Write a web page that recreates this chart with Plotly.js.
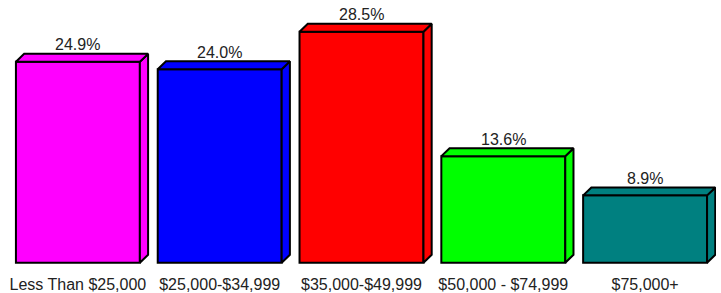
<!DOCTYPE html>
<html>
<head>
<meta charset="utf-8">
<script src="https://cdn.plot.ly/plotly-3.0.1.min.js"></script>
<style>html,body{margin:0;padding:0;background:#fff;}#chart{width:721px;height:293px;}</style>
</head>
<body>
<div id="chart"></div>
<script>
const categories = ["Less Than $25,000", "$25,000-$34,999", "$35,000-$49,999", "$50,000 - $74,999", "$75,000+"];
const values = [24.9, 24.0, 28.5, 13.6, 8.9];
const valueLabels = ["24.9%", "24.0%", "28.5%", "13.6%", "8.9%"];
const colors = ["#FF00FF", "#0000FF", "#FF0000", "#00FF00", "#008080"];

const yMin = 0.68, yMax = 32.3, yBase = 0.83;
const halfW = 0.437;      // half bar width in category units
const depthX = 0.058;     // 3D depth in category units
const depthY = 0.95;      // 3D depth in value units

const traces = [];
traces.push({
  type: 'bar',
  x: categories.map((c, i) => i),
  y: values.map(v => v - yBase),
  base: yBase,
  width: halfW * 2,
  marker: {color: colors, line: {color: '#000', width: 2}},
  hoverinfo: 'skip',
  showlegend: false
});

values.forEach((v, i) => {
  const xl = i - halfW, xr = i + halfW;
  // side face
  traces.push({
    type: 'scatter', mode: 'lines', fill: 'toself', fillcolor: colors[i],
    x: [xr, xr + depthX, xr + depthX, xr, xr],
    y: [yBase, yBase + depthY, v + depthY, v, yBase],
    line: {color: '#000', width: 2}, hoverinfo: 'skip', showlegend: false
  });
  // top face
  traces.push({
    type: 'scatter', mode: 'lines', fill: 'toself', fillcolor: colors[i],
    x: [xl, xl + depthX, xr + depthX, xr, xl],
    y: [v, v + depthY, v + depthY, v, v],
    line: {color: '#000', width: 2}, hoverinfo: 'skip', showlegend: false
  });
});

const annotations = values.map((v, i) => ({
  x: i, y: v + depthY, xref: 'x', yref: 'y',
  text: valueLabels[i], showarrow: false, yanchor: 'bottom', yshift: -1.5,
  font: {family: 'Liberation Sans, Arial, sans-serif', size: 16, color: '#222'}
}));

const layout = {
  width: 721, height: 293,
  margin: {l: 6.6, r: 5.1, t: 0, b: 29, pad: 0},
  paper_bgcolor: '#fff', plot_bgcolor: '#fff',
  xaxis: {
    range: [-0.5, 4.5], tickmode: 'array', tickvals: [0, 1, 2, 3, 4], ticktext: categories,
    showgrid: false, zeroline: false, showline: false, ticks: '',
    ticklabelstandoff: 9,
    tickfont: {family: 'Liberation Sans, Arial, sans-serif', size: 16, color: '#222'},
    fixedrange: true
  },
  yaxis: {range: [yMin, yMax], visible: false, fixedrange: true},
  annotations: annotations,
  showlegend: false
};

Plotly.newPlot('chart', traces, layout, {staticPlot: true});
</script>
</body>
</html>
